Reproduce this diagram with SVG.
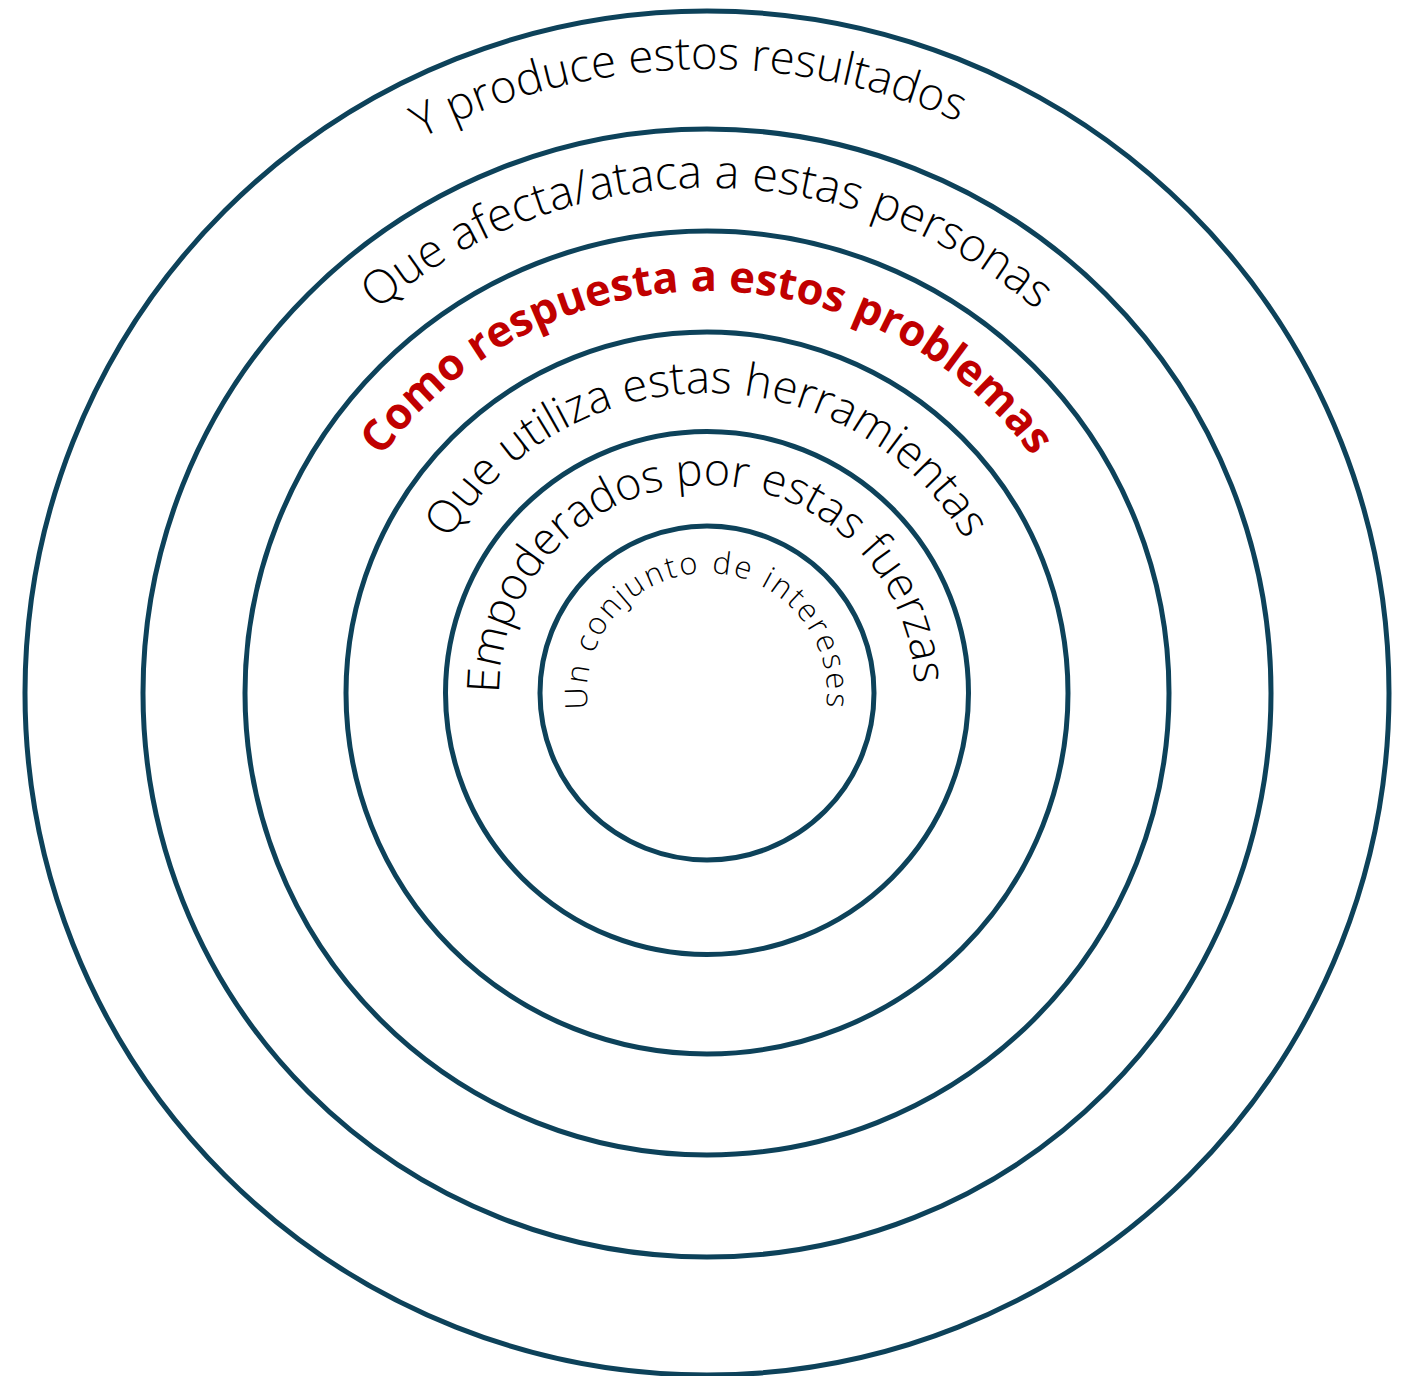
<svg xmlns="http://www.w3.org/2000/svg" width="1407" height="1376" viewBox="0 0 1407 1376">
<style>
.ring{fill:none;stroke:#0d425a;stroke-width:5}
.lbl{font-family:"Open Sans","Lato","DejaVu Sans",sans-serif;font-weight:300;fill:#000}
.red{font-family:"Open Sans","Lato","DejaVu Sans",sans-serif;font-weight:700;fill:#c00000}
</style>
<defs>
<path id="p1" d="M120.6,906.4 A624,624 0 1 1 1293.4,906.4"/>
<path id="p2" d="M232.5,865.7 A505,505 0 1 1 1181.5,865.7"/>
<path id="p3" d="M329.2,830.5 A402,402 0 1 1 1084.8,830.5"/>
<path id="p4" d="M425.1,795.6 A300,300 0 1 1 988.9,795.6"/>
<path id="p5" d="M511.5,764.1 A208,208 0 1 1 902.5,764.1"/>
<path id="p6" d="M594.2,734 A120,120 0 1 1 819.8,734"/>
</defs>
<rect width="1407" height="1376" fill="#fff"/>
<g id="ring1"><circle class="ring" cx="707" cy="693" r="682"/><text class="lbl" font-size="45.5"><textPath href="#p1" startOffset="49.2%" text-anchor="middle">Y produce estos resultados</textPath></text></g>
<g id="ring2"><circle class="ring" cx="707" cy="693" r="564"/><text class="lbl" font-size="46.5"><textPath href="#p2" startOffset="50%" text-anchor="middle">Que afecta/ataca a estas personas</textPath></text></g>
<g id="ring3"><circle class="ring" cx="707" cy="693" r="462"/><text class="red" font-size="43.5"><textPath href="#p3" startOffset="50%" text-anchor="middle">Como respuesta a estos problemas</textPath></text></g>
<g id="ring4"><circle class="ring" cx="707" cy="693" r="361"/><text class="lbl" font-size="45.5"><textPath href="#p4" startOffset="50%" text-anchor="middle">Que utiliza estas herramientas</textPath></text></g>
<g id="ring5"><circle class="ring" cx="707" cy="693" r="261.5"/><text class="lbl" font-size="45"><textPath href="#p5" startOffset="49.4%" text-anchor="middle">Empoderados por estas fuerzas</textPath></text></g>
<g id="ring6"><circle class="ring" cx="707" cy="693" r="167"/><text class="lbl" font-size="31" letter-spacing="2.4"><textPath href="#p6" startOffset="50%" text-anchor="middle">Un conjunto de intereses</textPath></text></g>
</svg>
